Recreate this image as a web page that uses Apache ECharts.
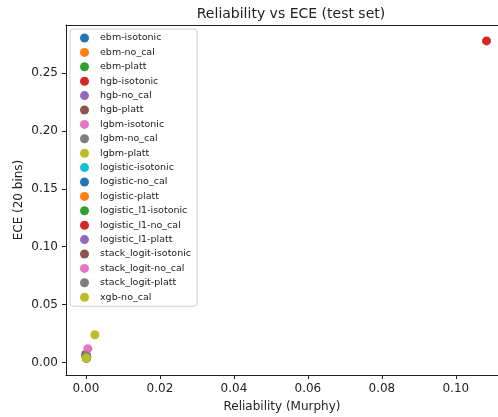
<!DOCTYPE html>
<html>
<head>
<meta charset="utf-8">
<script src="https://cdn.jsdelivr.net/npm/echarts@6/dist/echarts.min.js"></script>
<style>
  html, body { margin: 0; padding: 0; background: #fff; }
  #chart { width: 498px; height: 417px; }
</style>
</head>
<body>
<div id="chart"></div>
<script>
const models = [
  'ebm-isotonic', 'ebm-no_cal', 'ebm-platt',
  'hgb-isotonic', 'hgb-no_cal', 'hgb-platt',
  'lgbm-isotonic', 'lgbm-no_cal', 'lgbm-platt',
  'logistic-isotonic', 'logistic-no_cal', 'logistic-platt',
  'logistic_l1-isotonic', 'logistic_l1-no_cal', 'logistic_l1-platt',
  'stack_logit-isotonic', 'stack_logit-no_cal', 'stack_logit-platt',
  'xgb-no_cal'
]
// reliability (Murphy decomposition) per model
const reliability = [
  0.0002, 0.0001, 0.0001,
  0.0002, 0.0001, 0.0001,
  0.0002, 0.0002, 0.0024,
  0.0001, 0.0001, 0.0001,
  0.0001, 0.1083, 0.0001,
  -0.0001, 0.0005, 0.0001,
  0.0001
]
// ECE with 20 bins per model
const ece = [
  0.004, 0.005, 0.004,
  0.005, 0.006, 0.005,
  0.006, 0.005, 0.024,
  0.004, 0.005, 0.004,
  0.004, 0.2776, 0.005,
  0.007, 0.012, 0.006,
  0.004
]
const xTicks = [0.00, 0.02, 0.04, 0.06, 0.08, 0.10]
const yTicks = [0.00, 0.05, 0.10, 0.15, 0.20, 0.25]

// matplotlib tab10 cycle
const tab10 = ['#1f77b4', '#ff7f0e', '#2ca02c', '#d62728', '#9467bd',
  '#8c564b', '#e377c2', '#7f7f7f', '#bcbd22', '#17becf']

const chart = echarts.init(document.getElementById('chart'))
const font = 'DejaVu Sans'
const ink = '#222'
const xMin = -0.0054, xMax = 0.1114   // right spine is cut off by the image edge

const axisCommon = {
  type: 'value',
  axisLine: { show: true, onZero: false, lineStyle: { color: ink, width: 1 } },
  axisTick: { show: true, inside: false, length: 4, lineStyle: { color: ink } },
  splitLine: { show: false },
  nameLocation: 'middle',
  nameMoveOverlap: false,
  nameTextStyle: { fontFamily: font, fontSize: 12, color: ink }
}

chart.setOption({
  animation: false,
  color: tab10,
  title: {
    text: 'Reliability vs ECE (test set)',
    left: 286, top: 2,
    textAlign: 'center',
    textStyle: { fontFamily: font, fontSize: 14, fontWeight: 'normal', color: ink }
  },
  grid: { left: 66, top: 25, right: 0, bottom: 42, outerBoundsMode: 'none' },
  legend: {
    orient: 'vertical',
    left: 70, top: 29,
    padding: [4, 6, 4, 10],
    icon: 'circle',
    itemWidth: 21, itemHeight: 9,
    itemGap: 4.4,
    borderColor: '#d0d0d0', borderWidth: 1, borderRadius: 3,
    textStyle: { fontFamily: font, fontSize: 9.5, lineHeight: 10, color: ink },
    data: models
  },
  xAxis: [
    Object.assign({}, axisCommon, {
      min: xMin, max: xMax,
      name: 'Reliability (Murphy)', nameGap: 26,
      axisTick: Object.assign({}, axisCommon.axisTick, { customValues: xTicks }),
      axisLabel: {
        customValues: xTicks, margin: 8,
        fontFamily: font, fontSize: 12, color: ink,
        formatter: v => v.toFixed(2)
      }
    }),
    {
      type: 'value', position: 'top',
      min: xMin, max: xMax,
      axisLine: { show: true, onZero: false, lineStyle: { color: ink, width: 1 } },
      axisTick: { show: false }, axisLabel: { show: false }, splitLine: { show: false }
    }
  ],
  yAxis: Object.assign({}, axisCommon, {
    min: -0.0107, max: 0.2913,
    name: 'ECE (20 bins)', nameGap: 41,
    axisTick: Object.assign({}, axisCommon.axisTick, { customValues: yTicks }),
    axisLabel: {
      customValues: yTicks, margin: 8,
      fontFamily: font, fontSize: 12, color: ink,
      formatter: v => v.toFixed(2)
    }
  }),
  series: models.map((name, i) => ({
    name,
    type: 'scatter',
    symbolSize: 9,
    itemStyle: { color: tab10[i % 10], opacity: 1 },
    data: [[reliability[i], ece[i]]]
  }))
})
</script>
</body>
</html>
